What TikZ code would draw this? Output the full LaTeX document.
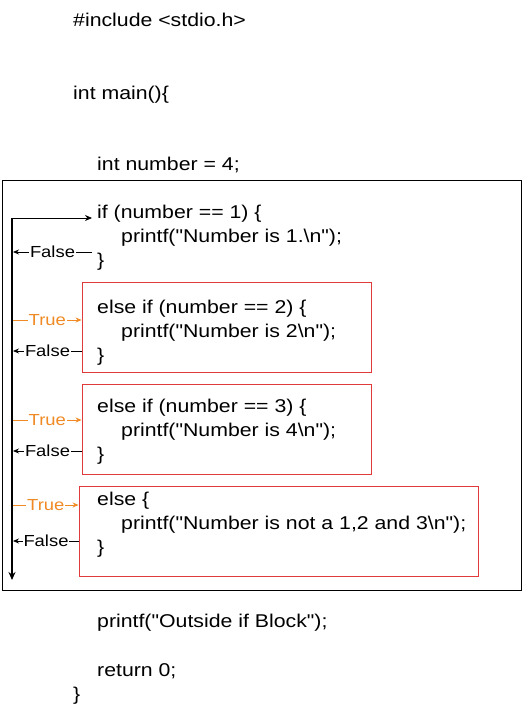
\documentclass[tikz,border=0pt]{standalone}
\usepackage{fontspec}
\setmainfont[FakeStretch=1.15, Ligatures=TeXOff]{Liberation Sans}
\usetikzlibrary{arrows.meta}
\definecolor{boxred}{HTML}{E03A3A}
\definecolor{trueor}{HTML}{F08A24}
\begin{document}
\begin{tikzpicture}[x=1pt,y=-1pt,
  code/.style={anchor=base west, inner sep=0pt, font=\fontsize{18.5}{22}\selectfont},
  redbox/.style={draw=boxred, line width=0.9pt, inner sep=0pt},
  lab/.style={fill=white, inner sep=1pt, font=\fontsize{16}{18}\selectfont},
  falsearrow/.style={-{Stealth[length=6pt,width=5pt]}, line width=0.8pt},
  truearrow/.style={-{Stealth[length=6pt,width=5pt]}, line width=0.8pt, draw=trueor}]
\useasboundingbox (0,0) rectangle (522,720);
% outer frame
\node[draw, line width=1pt, minimum width=519pt, minimum height=410pt, inner sep=0pt] (outer) at (261.5,385) {};
% red boxes
\node[redbox, minimum width=289pt, minimum height=90pt] (b2) at (226.5,327) {};
\node[redbox, minimum width=289pt, minimum height=90pt] (b3) at (226.5,429) {};
\node[redbox, minimum width=399pt, minimum height=90pt] (b4) at (278.5,531) {};
% code
\node[code] (inc) at (73,27) {\#include <stdio.h>};
\node[code] (main) at (73,99) {int main()\{};
\node[code] (num) at (97,170) {int number = 4;};
\node[code] (if1) at (97,218) {if (number == 1) \{};
\node[code] (p1) at (121,242) {printf("Number is 1.\textbackslash n");};
\node[code] (c1) at (97,266) {\}};
\node[code] (if2) at (97,313) {else if (number == 2) \{};
\node[code] (p2) at (121,337) {printf("Number is 2\textbackslash n");};
\node[code] (c2) at (97,361) {\}};
\node[code] (if3) at (97,412) {else if (number == 3) \{};
\node[code] (p3) at (121,436) {printf("Number is 4\textbackslash n");};
\node[code] (c3) at (97,460) {\}};
\node[code] (if4) at (97,505) {else \{};
\node[code] (p4) at (121,529) {printf("Number is not a 1,2 and 3\textbackslash n");};
\node[code] (c4) at (97,553) {\}};
\node[code] (out) at (97,627) {printf("Outside if Block");};
\node[code] (ret) at (97,676) {return 0;};
\node[code] (cm) at (73,700) {\}};
% main flow line
\coordinate (top) at (12,218);
\coordinate (bot) at (12,580);
\coordinate (ifin) at (92,218);
\draw[line width=2.2pt, -{Stealth[length=8pt,width=7pt]}] (top) -- (bot);
\draw[line width=0.8pt, -{Stealth[length=7pt,width=6pt]}] (top) -- (ifin);
% false arrows
\coordinate (f1s) at (92,252); \coordinate (f1e) at (13,252);
\coordinate (f2s) at (82,351); \coordinate (f2e) at (13,351);
\coordinate (f3s) at (82,451); \coordinate (f3e) at (13,451);
\coordinate (f4s) at (79,541); \coordinate (f4e) at (13,541);
\draw[falsearrow] (f1s) -- (f1e) node[lab, midway] {False};
\draw[falsearrow] (f2s) -- (f2e) node[lab, midway] {False};
\draw[falsearrow] (f3s) -- (f3e) node[lab, midway] {False};
\draw[falsearrow] (f4s) -- (f4e) node[lab, midway] {False};
% true arrows
\coordinate (t2) at (13,320);
\coordinate (t3) at (13,420);
\coordinate (t4) at (13,505);
\draw[truearrow] (t2) -- (t2 -| b2.west) node[lab, text=trueor, midway] {True};
\draw[truearrow] (t3) -- (t3 -| b3.west) node[lab, text=trueor, midway] {True};
\draw[truearrow] (t4) -- (t4 -| b4.west) node[lab, text=trueor, midway] {True};
\end{tikzpicture}
\end{document}
